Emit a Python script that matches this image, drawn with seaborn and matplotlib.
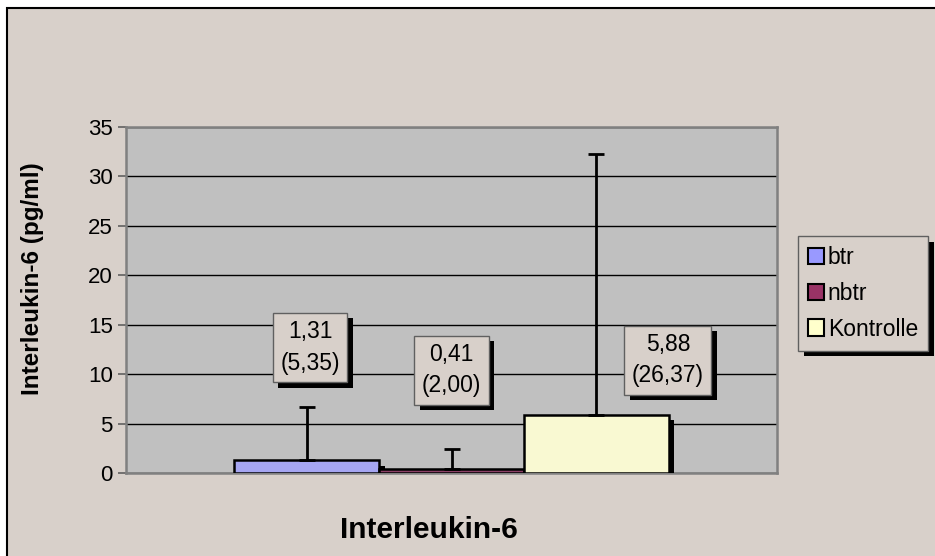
import seaborn as sns
import pandas as pd
import matplotlib
matplotlib.use('Agg')
from matplotlib import pyplot as plt
from matplotlib.patches import Rectangle, Patch
import matplotlib.patheffects as pe

# values
groups = ['btr', 'nbtr', 'Kontrolle']
means = [1.31, 0.41, 5.88]
sds = [5.35, 2.00, 26.37]
colors = ['#9999FF', '#993366', '#FFFFCC']

# where the value boxes sit (data units), layout only
label_y = [12.7, 10.4, 11.4]
label_dx = [0.005, 0.0, 0.11]

sns.set_style('white')
plt.rcParams['font.family'] = ['Liberation Sans', 'DejaVu Sans']
plt.rcParams['text.color'] = 'black'
plt.rcParams['ytick.labelcolor'] = 'black'

df = pd.DataFrame({'Parameter': ['Interleukin-6'] * 3, 'Gruppe': groups, 'Wert': means})

fig = plt.figure(figsize=(9.35, 5.56), dpi=100, facecolor='white')
bg = '#D8D0CA'
fig.patches.append(Rectangle((7 / 935, -0.1), 1.2, 1 - 8 / 556 + 0.1, transform=fig.transFigure,
                             fc=bg, ec='black', lw=1.5, zorder=-1))

ax = fig.add_axes([126 / 935, 1 - 473 / 556, 651 / 935, 346 / 556])
ax.set_facecolor('#C0C0C0')

sns.barplot(data=df, x='Parameter', y='Wert', hue='Gruppe', hue_order=groups,
            palette=colors, width=0.667, edgecolor='black', linewidth=1.8,
            legend=False, ax=ax, zorder=3)
ax.set_xlim(-0.5, 0.5)

shadow = [pe.SimplePatchShadow(offset=(4, -4), shadow_rgbFace='black', alpha=1), pe.Normal()]
bars = [p for p in ax.patches]
for p in bars:
    p.set_path_effects(shadow)

xs = [p.get_x() + p.get_width() / 2 for p in bars]
ax.errorbar(xs, means, yerr=[[0] * 3, sds], fmt='none', ecolor='black', elinewidth=2,
            capsize=6, capthick=2, zorder=4)

for x, ly, dx, m, s in zip(xs, label_y, label_dx, means, sds):
    txt = f'{m:.2f}\n({s:.2f})'.replace('.', ',')
    t = ax.text(x + dx, ly, txt, ha='center', va='center', fontsize=16.5, linespacing=1.45, zorder=6,
                color='black',
                bbox=dict(boxstyle='square,pad=0.33', fc=bg, ec='#606060', lw=1))
    t.get_bbox_patch().set_path_effects(shadow)

ax.set_ylim(0, 35)
ax.set_yticks(range(0, 36, 5))
ax.yaxis.grid(True, color='black', lw=1)
ax.set_axisbelow(True)
ax.tick_params(axis='y', length=6, width=1.2, color='#606060', labelsize=16, labelcolor='black',
               direction='out', left=True)
ax.tick_params(axis='x', bottom=False, labelbottom=False)
ax.set_xlabel('')
ax.set_ylabel('')
for sp in ax.spines.values():
    sp.set_color('#808080')
    sp.set_linewidth(1.8)

fig.text(33 / 935, 1 - 279 / 556, 'Interleukin-6 (pg/ml)', rotation=90, ha='center', va='center',
         fontsize=17.5, fontweight='bold', color='black')
fig.text(429 / 935, 1 - 530 / 556, 'Interleukin-6', ha='center', va='center',
         fontsize=21.5, fontweight='bold', color='black')

handles = [Patch(fc=c, ec='black', lw=1.5) for c in colors]
leg = fig.legend(handles, groups, loc='upper left', bbox_to_anchor=(798 / 935, 1 - 236 / 556),
                 fontsize=16.5, frameon=True, fancybox=False, handlelength=0.7, handleheight=0.7,
                 handletextpad=0.15, borderpad=0.45, labelspacing=0.55, borderaxespad=0)
for txt in leg.get_texts():
    txt.set_color('black')
fr = leg.get_frame()
fr.set_facecolor(bg)
fr.set_edgecolor('#606060')
fr.set_linewidth(1)
fr.set_alpha(1)
fr.set_path_effects(shadow)

fig.savefig('out.png', dpi=100, facecolor=fig.get_facecolor())
